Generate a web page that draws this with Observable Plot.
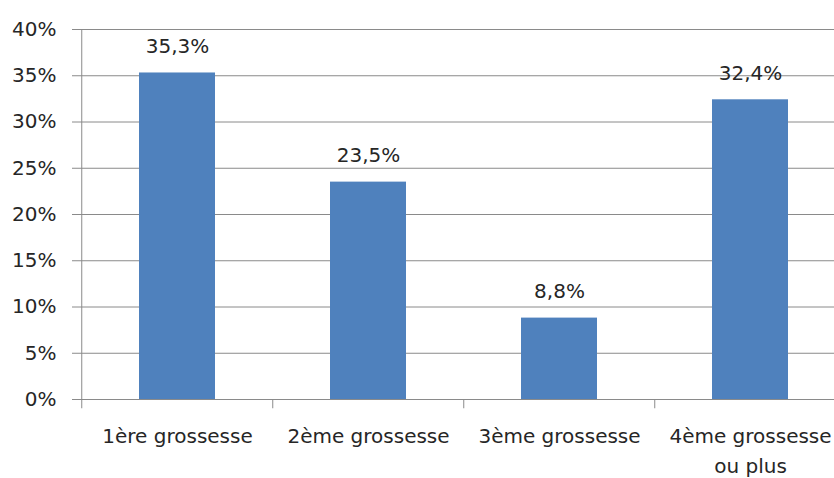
<!DOCTYPE html>
<html>
<head>
<meta charset="utf-8">
<script src="https://cdn.jsdelivr.net/npm/d3@7"></script>
<script src="https://cdn.jsdelivr.net/npm/@observablehq/plot@0.6"></script>
<style>
  html, body { margin: 0; padding: 0; background: #fff; }
  #chart svg { display: block; }
</style>
</head>
<body>
<div id="chart"></div>
<script>
const categories = ["1ère grossesse", "2ème grossesse", "3ème grossesse", "4ème grossesse ou plus"];
const tickLabels = ["1ère grossesse", "2ème grossesse", "3ème grossesse", "4ème grossesse\nou plus"];
const values = [35.3, 23.5, 8.8, 32.4];
const yTicks = [0, 5, 10, 15, 20, 25, 30, 35, 40];

const data = categories.map((c, i) => ({cat: c, value: values[i], label: tickLabels[i]}));
const fmt = v => v.toFixed(1).replace(".", ",") + "%";

const W = 834, H = 478;
const x0 = 80, x1 = 846;
const band = (x1 - x0) / categories.length;

const chart = Plot.plot({
  width: W,
  height: H,
  marginLeft: 80,
  marginRight: 0,
  marginTop: 29,
  marginBottom: 79,
  style: {fontFamily: "DejaVu Sans", fontSize: "20px", color: "#262626", background: "#fff"},
  x: {domain: categories, range: [x0, x1], paddingInner: 0.603, paddingOuter: 0.3015, align: 0.5},
  y: {domain: [0, 40]},
  marks: [
    Plot.ruleY(yTicks, {y: d => d, stroke: "#8a8a8a", strokeWidth: 1, strokeOpacity: 1}),
    Plot.ruleX(categories, {x: d => d, dx: -band / 2, y1: 0, y2: -1, stroke: "#8a8a8a", strokeOpacity: 1}),
    Plot.ruleX([0], {x: () => categories[0], dx: -band / 2, y1: 0, y2: 40, stroke: "#8a8a8a", strokeOpacity: 1}),
    Plot.barY(data, {x: "cat", y: "value", fill: "#4F81BD"}),
    Plot.text(data, {x: "cat", y: "value", text: d => fmt(d.value), lineAnchor: "bottom", dy: -20, fill: "#262626", fontSize: 20}),
    Plot.axisY({ticks: yTicks, tickFormat: d => d + "%", tickSize: 8, tickPadding: 16, stroke: "#8a8a8a", label: null}),
    Plot.axisX({tickSize: 0, tickPadding: 22, tickFormat: (d, i) => tickLabels[categories.indexOf(d)], lineHeight: 1.5, label: null})
  ]
});
document.getElementById("chart").append(chart);
</script>
</body>
</html>
